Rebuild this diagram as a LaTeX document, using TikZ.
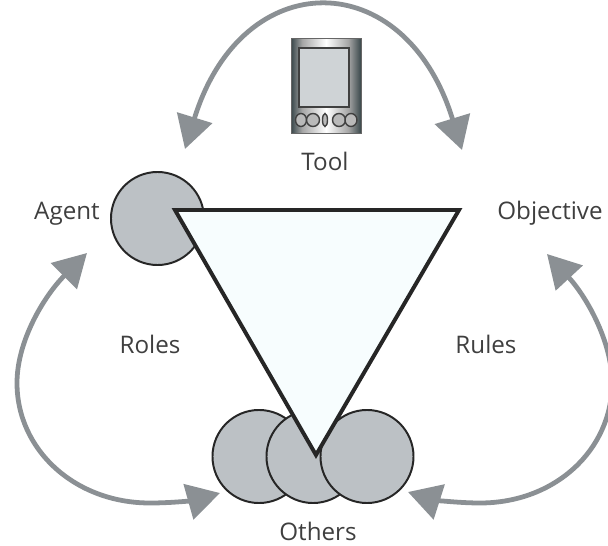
\documentclass[tikz,border=0pt]{standalone}
\usepackage{fontspec}
\setmainfont{Open Sans}
\usetikzlibrary{arrows.meta}
\definecolor{arcgrey}{HTML}{8B9094}
\definecolor{discgrey}{HTML}{BCC1C5}
\definecolor{inkgrey}{HTML}{3F3F3F}
\definecolor{wedgeblue}{HTML}{F7FDFE}
\definecolor{screengrey}{HTML}{CFD3D6}
\definecolor{metaldark}{HTML}{39474A}
\pgfdeclarehorizontalshading{metalbar}{100bp}{
  color(0bp)=(metaldark); color(25bp)=(metaldark); color(33bp)=(gray!70);
  color(50bp)=(white); color(66bp)=(gray!70); color(75bp)=(metaldark); color(100bp)=(metaldark)}
\tikzset{
  disc/.style={circle,draw=black!85,line width=1.4pt,fill=discgrey,minimum size=2.325cm,inner sep=0pt},
  caption/.style={text=inkgrey,font=\fontsize{17.2}{20}\selectfont,inner sep=0pt,anchor=base},
  arc/.style={draw=arcgrey,line width=3.4pt,{Triangle[length=0.82cm,width=0.9cm]}-{Triangle[length=0.82cm,width=0.9cm]}},
  knob/.style={draw=black!75,line width=1pt,fill=gray!55}
}

\begin{document}
\begin{tikzpicture}[x=0.025cm,y=-0.025cm]
  \useasboundingbox (0,0) rectangle (608,546);
  % discs
  \node[disc] (agentdisc) at (157.5,218.5) {};
  \node[disc] (otherleft) at (259,456.5) {};
  \node[disc] (othermid) at (313,456.5) {};
  \node[disc] (otherright) at (367,456.5) {};
  % wedge
  \draw[line width=2.8pt,draw=black!85,fill=wedgeblue] (175,210) -- (459,210) -- (316,455) -- cycle;
  % device
  \draw[draw=black!60,line width=0.5pt,shading=metalbar] (291,38) rectangle (361,133);
  \draw[draw=black!75,line width=1pt,fill=screengrey] (299,48) rectangle (349,107);
  \foreach \xc/\rx in {301/5.5,313/6.5,325/2.5,339/6.5,351/6}
    \draw[knob] (\xc,120) ellipse ({\rx} and 6.5);
  % labels
  \node[caption] (tool) at (325,170) {Tool};
  \node[caption] (agent) at (67,220) {Agent};
  \node[caption] (objective) at (550,219) {Objective};
  \node[caption] (roles) at (150,353) {Roles};
  \node[caption] (rules) at (486,353) {Rules};
  \node[caption] (others) at (318,540) {Others};
  % arcs
  \coordinate (topleft) at (185,149);
  \coordinate (topright) at (462,150);
  \coordinate (leftup) at (87,253);
  \coordinate (leftdown) at (220,493);
  \coordinate (rightup) at (547,254);
  \coordinate (rightdown) at (408,492);
  \draw[arc] (topleft) .. controls (242,-36) and (405,-36) .. (topright);
  \draw[arc] (leftup) .. controls (45,295) and (17,340) .. (17,383)
    .. controls (17,450) and (75,503) .. (150,503)
    .. controls (175,503) and (195,500) .. (leftdown);
  \draw[arc] (rightup) .. controls (585,295) and (612,340) .. (612,383)
    .. controls (612,450) and (555,503) .. (480,503)
    .. controls (455,503) and (430,499) .. (rightdown);
\end{tikzpicture}
\end{document}
